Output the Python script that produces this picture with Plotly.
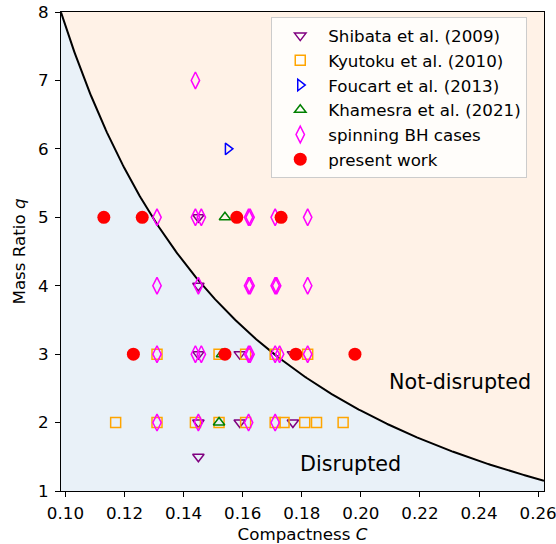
import numpy as np
import plotly.graph_objects as go

# ---- data: compactness C and mass ratio q of each simulation ----
shibata_C = [0.145, 0.145, 0.159, 0.177, 0.145, 0.159, 0.177, 0.145, 0.145]
shibata_q = [1.5, 2, 2, 2, 3, 3, 3, 4, 5]

kyutoku_C = [0.117, 0.131, 0.144, 0.152, 0.161, 0.171, 0.174, 0.181, 0.185, 0.194,
             0.131, 0.152, 0.161, 0.171, 0.182]
kyutoku_q = [2, 2, 2, 2, 2, 2, 2, 2, 2, 2,
             3, 3, 3, 3, 3]

foucart_C = [0.155]
foucart_q = [6]

khamesra_C = [0.152, 0.153, 0.154]
khamesra_q = [2, 3, 5]

spinning_C = [0.131, 0.145, 0.162, 0.171,
              0.131, 0.144, 0.146, 0.162, 0.1625, 0.171, 0.1725, 0.182,
              0.131, 0.145, 0.162, 0.1625, 0.171, 0.1715, 0.182,
              0.131, 0.144, 0.146, 0.162, 0.1625, 0.171, 0.182,
              0.144]
spinning_q = [2, 2, 2, 2,
              3, 3, 3, 3, 3, 3, 3, 3,
              4, 4, 4, 4, 4, 4, 4,
              5, 5, 5, 5, 5, 5, 5,
              7]

present_C = [0.123, 0.154, 0.178, 0.198, 0.113, 0.126, 0.158, 0.173]
present_q = [3, 3, 3, 3, 5, 5, 5, 5]

x_ticks = [0.10, 0.12, 0.14, 0.16, 0.18, 0.20, 0.22, 0.24, 0.26]
y_ticks = [1, 2, 3, 4, 5, 6, 7, 8]

# ---- disruption boundary q_crit(C) = a C^-3/2 + b ----
A_COEF = 0.275
B_COEF = -0.9
X_MIN, X_MAX = 0.0985, 0.2620
Y_MIN, Y_MAX = 1, 8
c_grid = np.linspace(X_MIN, X_MAX, 400)
q_crit = A_COEF * c_grid ** -1.5 + B_COEF

FONT = "DejaVu Sans"
FS = 16.7
FS_REGION = 20.7
fig = go.Figure()

# disrupted region (below the boundary)
fig.add_trace(go.Scatter(
    x=c_grid, y=q_crit, mode="lines", fill="tozeroy",
    fillcolor="rgb(233,241,248)", line=dict(width=0),
    showlegend=False, hoverinfo="skip"))
# boundary curve
fig.add_trace(go.Scatter(
    x=c_grid, y=q_crit, mode="lines", line=dict(color="black", width=2),
    showlegend=False, hoverinfo="skip"))

series = [
    ("Shibata et al. (2009)", shibata_C, shibata_q, "triangle-down-open", "purple", 10),
    ("Kyutoku et al. (2010)", kyutoku_C, kyutoku_q, "square-open", "orange", 10),
    ("Foucart et al. (2013)", foucart_C, foucart_q, "triangle-right-open", "blue", 10),
    ("Khamesra et al. (2021)", khamesra_C, khamesra_q, "triangle-up-open", "green", 10),
    ("spinning BH cases", spinning_C, spinning_q, "diamond-tall-open", "magenta", 12),
]
for i, (name, xs, ys, sym, col, size) in enumerate(series):
    fig.add_trace(go.Scatter(
        x=xs, y=ys, mode="markers", name=name, legendgroup=str(i),
        marker=dict(symbol=sym, size=size, color=col, line=dict(color=col, width=1.5))))

fig.add_trace(go.Scatter(
    x=present_C, y=present_q, mode="markers", name="present work", legendgroup="p",
    marker=dict(symbol="circle", size=13, color="red", line=dict(width=0))))

fig.add_annotation(x=0.2334, y=2.59, text="Not-disrupted", showarrow=False,
                   font=dict(family=FONT, size=FS_REGION, color="black"))
fig.add_annotation(x=0.1966, y=1.39, text="Disrupted", showarrow=False,
                   font=dict(family=FONT, size=FS_REGION, color="black"))

axis_common = dict(
    showgrid=False, zeroline=False, showline=True, mirror=True,
    linecolor="black", linewidth=1, ticks="outside", ticklen=5, tickwidth=1,
    tickcolor="black", tickfont=dict(family=FONT, size=FS, color="black"),
    ticklabeloverflow="allow", automargin=False,
)

fig.update_layout(
    width=556, height=544,
    margin=dict(l=61, r=12, t=12, b=53, autoexpand=False),
    paper_bgcolor="white",
    plot_bgcolor="rgb(255,242,231)",
    font=dict(family=FONT, size=FS, color="black"),
    xaxis=dict(range=[X_MIN, X_MAX], tickvals=x_ticks, tickformat=".2f",
               ticklabelstandoff=2,
               title=dict(text="Compactness <i>C</i>", font=dict(family=FONT, size=FS),
                          standoff=8),
               **axis_common),
    yaxis=dict(range=[Y_MIN, Y_MAX], tickvals=y_ticks,
               ticklabelstandoff=3,
               title=dict(text="Mass Ratio <i>q</i>", font=dict(family=FONT, size=FS),
                          standoff=8),
               **axis_common),
    legend=dict(x=0.4353, y=0.989, xanchor="left", yanchor="top",
                bgcolor="rgba(255,255,255,0.8)", bordercolor="#cccccc", borderwidth=1,
                font=dict(family=FONT, size=FS, color="black"),
                itemwidth=46, tracegroupgap=0),
    showlegend=True,
)

fig.write_html("out.html")
